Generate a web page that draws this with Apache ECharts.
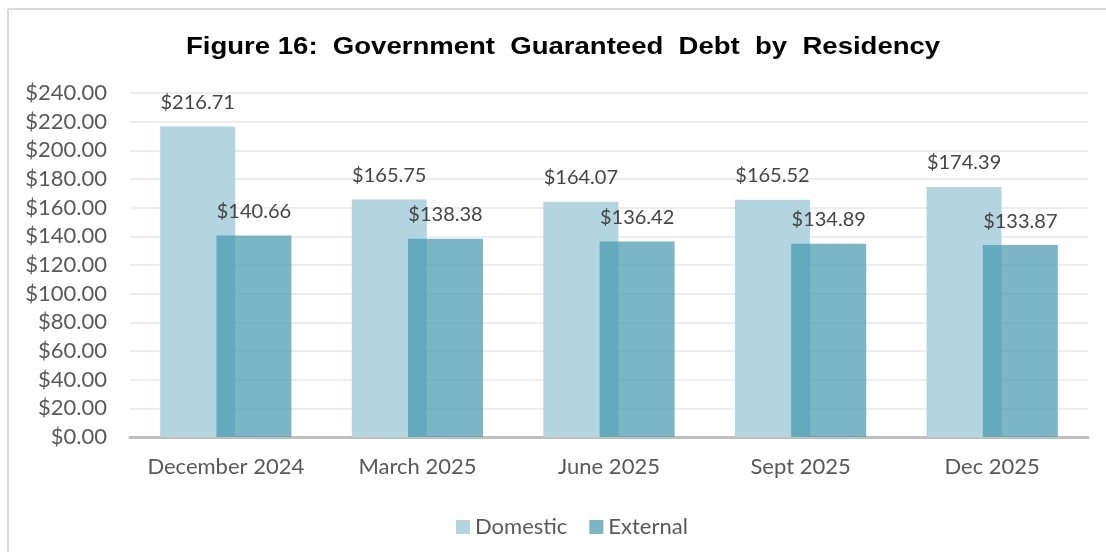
<!DOCTYPE html>
<html>
<head>
<meta charset="utf-8">
<script src="https://cdn.jsdelivr.net/npm/echarts@6/dist/echarts.min.js"></script>
<style>
  html, body { margin: 0; padding: 0; background: #ffffff; }
  #chart { width: 1106px; height: 552px; }
</style>
</head>
<body>
<div id="chart"></div>
<script>
// Government guaranteed debt, split by residency of the holder
const categories = ['December 2024', 'March 2025', 'June 2025', 'Sept 2025', 'Dec 2025'];
const domestic = [216.71, 165.75, 164.07, 165.52, 174.39];
const external = [140.66, 138.38, 136.42, 134.89, 133.87];
const seriesNames = ['Domestic', 'External'];
const titleText = 'Figure 16:  Government  Guaranteed  Debt  by  Residency';

const money = v => '$' + Number(v).toFixed(2);
const textFont = 'Lato';

const chart = echarts.init(document.getElementById('chart'));
chart.setOption({
  animation: false,
  backgroundColor: '#ffffff',
  graphic: [
    // frame lines along the top and left edges
    { type: 'line', shape: { x1: 8, y1: 9, x2: 1106, y2: 9 }, style: { stroke: '#d9d9d9', lineWidth: 2 }, silent: true },
    { type: 'line', shape: { x1: 8, y1: 9, x2: 8, y2: 552 }, style: { stroke: '#d9d9d9', lineWidth: 2 }, silent: true },
    // heading, set slightly wide
    {
      type: 'text',
      x: 186,
      y: 35,
      scaleX: 1.147,
      silent: true,
      style: {
        text: titleText,
        font: 'bold 24px "Liberation Sans", Arial, sans-serif',
        fill: '#000000',
        textVerticalAlign: 'top'
      }
    }
  ],
  legend: {
    data: seriesNames,
    left: 451,
    top: 511,
    itemWidth: 14,
    itemHeight: 14,
    itemGap: 22,
    icon: 'rect',
    textStyle: { fontFamily: textFont, fontSize: 22, color: '#595959' }
  },
  grid: { left: 130, right: 18, top: 93, bottom: 115, containLabel: false },
  xAxis: {
    type: 'category',
    data: categories,
    axisLine: { lineStyle: { color: '#bfbfbf', width: 3 } },
    axisTick: { show: false },
    axisLabel: { interval: 0, fontFamily: textFont, fontSize: 22, color: '#595959', margin: 19 }
  },
  yAxis: {
    type: 'value',
    min: 0,
    max: 240,
    interval: 20,
    axisLine: { show: false },
    axisTick: { show: false },
    splitLine: { lineStyle: { color: '#ededed', width: 2 } },
    axisLabel: { fontFamily: textFont, fontSize: 22, color: '#595959', margin: 23, formatter: money }
  },
  series: [
    {
      name: seriesNames[0],
      type: 'bar',
      data: domestic,
      barWidth: 75,
      barGap: '-25%',
      itemStyle: { color: '#b3d5e0' },
      label: {
        show: true,
        position: 'top',
        distance: 14,
        formatter: p => money(p.value),
        fontFamily: textFont,
        fontSize: 20,
        color: '#454545'
      }
    },
    {
      name: seriesNames[1],
      type: 'bar',
      data: external,
      barWidth: 75,
      barGap: '-25%',
      itemStyle: { color: 'rgba(65,151,174,0.7)' },
      label: {
        show: true,
        position: 'top',
        distance: 14,
        formatter: p => money(p.value),
        fontFamily: textFont,
        fontSize: 20,
        color: '#454545'
      }
    }
  ]
});
</script>
</body>
</html>
